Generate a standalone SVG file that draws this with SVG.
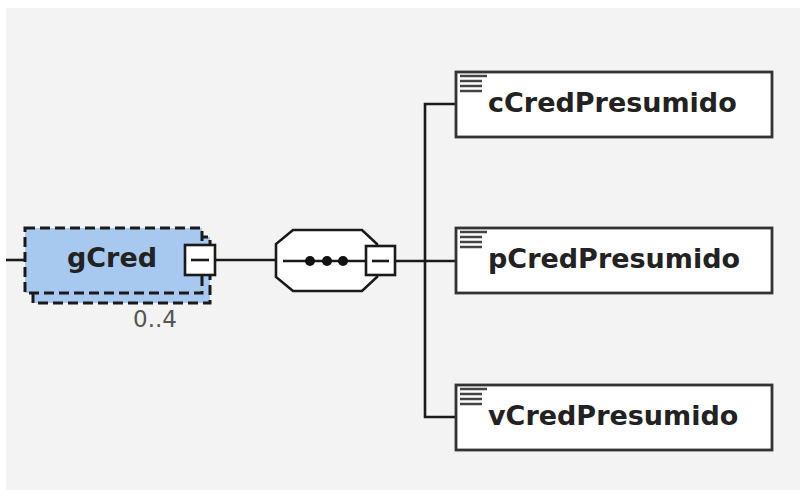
<svg xmlns="http://www.w3.org/2000/svg" width="800" height="490" viewBox="0 0 800 490">
<style>
.ln{stroke:#1a1a1a;stroke-width:2.6;fill:none}
.el{fill:#fff;stroke:#333;stroke-width:2.8}
.nm{font-family:"DejaVu Sans",sans-serif;font-weight:bold;font-size:27px;fill:#222}
.ic{stroke:#444;stroke-width:2.4}
.mb{fill:#fff;stroke:#1a1a1a;stroke-width:2.6}
.dash{fill:#a7c9ef;stroke:#1a1a1a;stroke-width:3;stroke-dasharray:10,5}
</style>
<rect x="0" y="0" width="800" height="490" fill="#fff"/>
<rect x="6" y="8" width="794" height="482" fill="#f3f3f3"/>
<g id="connectors">
<path class="ln" d="M6 260H25"/>
<path class="ln" d="M215 260H276"/>
<path class="ln" d="M396 261H456"/>
<path class="ln" d="M456 104H425V417H456"/>
</g>
<g id="gCred">
<rect class="dash" x="33" y="237" width="177" height="66"/>
<rect class="dash" x="25" y="228" width="177" height="65"/>
<text class="nm" x="112" y="267" text-anchor="middle" font-size="26">gCred</text>
<rect class="mb" x="185" y="245" width="30" height="30"/>
<path class="ln" d="M191 260H209"/>
<text x="155" y="327" text-anchor="middle" font-family="DejaVu Sans,sans-serif" font-size="23" fill="#555">0..4</text>
</g>
<g id="sequence">
<polygon points="293,230 362,230 377,244 377,277 362,291 293,291 276,277 276,244" fill="#fff" stroke="#1a1a1a" stroke-width="2.6"/>
<path class="ln" d="M283 261H366"/>
<circle cx="310" cy="261" r="5" fill="#111"/>
<circle cx="327" cy="261" r="5" fill="#111"/>
<circle cx="343" cy="261" r="5" fill="#111"/>
<rect class="mb" x="366" y="246" width="29" height="29"/>
<path class="ln" d="M372 261H389"/>
</g>
<g id="cCredPresumido">
<rect class="el" x="456" y="72" width="316" height="65"/>
<path class="ic" d="M460 76H487M460 81H482M460 86H482M460 91H482"/>
<text class="nm" x="488" y="112">cCredPresumido</text>
</g>
<g id="pCredPresumido">
<rect class="el" x="456" y="228" width="316" height="65"/>
<path class="ic" d="M460 232H487M460 237H482M460 242H482M460 247H482"/>
<text class="nm" x="488" y="268">pCredPresumido</text>
</g>
<g id="vCredPresumido">
<rect class="el" x="456" y="385" width="316" height="65"/>
<path class="ic" d="M460 389H487M460 394H482M460 399H482M460 404H482"/>
<text class="nm" x="488" y="425">vCredPresumido</text>
</g>
</svg>
